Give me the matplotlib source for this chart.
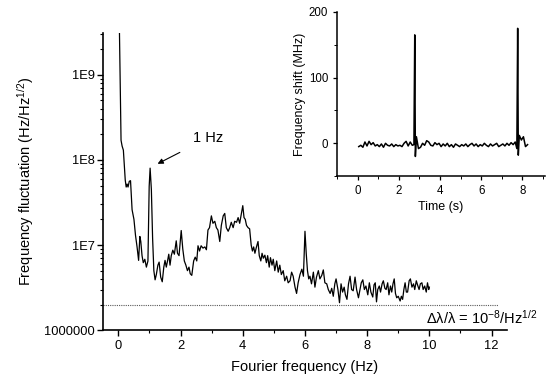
import matplotlib
matplotlib.use("Agg")
import matplotlib.pyplot as plt
from matplotlib.ticker import FixedLocator, MultipleLocator, FixedFormatter, LogLocator, NullFormatter

plt.rcParams['font.family'] = ['Liberation Sans', 'DejaVu Sans']
plt.rcParams['mathtext.fontset'] = 'custom'
plt.rcParams['mathtext.rm'] = 'Liberation Sans'
plt.rcParams['mathtext.it'] = 'Liberation Sans'

# ---- main spectrum data ----
freq = [0.03, 0.085, 0.12, 0.16, 0.22, 0.25, 0.28, 0.31, 0.35, 0.39, 0.44, 0.5, 0.55, 0.6, 0.65,
        0.69, 0.72, 0.76, 0.8, 0.85, 0.9, 0.95, 0.99, 1.02, 1.06, 1.1, 1.14, 1.18, 1.22, 1.27,
        1.31, 1.36, 1.41, 1.46, 1.5, 1.54, 1.58, 1.62, 1.66, 1.7, 1.75, 1.8, 1.86, 1.9, 1.95,
        2.02, 2.07, 2.12, 2.17, 2.22, 2.27, 2.31, 2.36, 2.42, 2.47, 2.52, 2.56, 2.61, 2.66, 2.72,
        2.78, 2.83, 2.88, 2.93, 2.99, 3.04, 3.1, 3.15, 3.2, 3.26, 3.31, 3.37, 3.42, 3.47, 3.53,
        3.58, 3.63, 3.69, 3.74, 3.8, 3.85, 3.9, 3.96, 4.0, 4.04, 4.08, 4.12, 4.17, 4.22, 4.27,
        4.31, 4.35, 4.39, 4.44, 4.49, 4.53, 4.58, 4.62, 4.66, 4.71, 4.76, 4.8, 4.85, 4.89, 4.94,
        4.98, 5.03, 5.09, 5.14, 5.19, 5.24, 5.3, 5.35, 5.41, 5.46, 5.52, 5.57, 5.62, 5.68, 5.73,
        5.78, 5.84, 5.9, 5.95, 6.0, 6.04, 6.08, 6.12, 6.16, 6.21, 6.27, 6.32, 6.37, 6.43, 6.48,
        6.54, 6.59, 6.64, 6.7, 6.75, 6.81, 6.86, 6.91, 6.96, 7.0, 7.06, 7.11, 7.16, 7.21, 7.26,
        7.3, 7.35, 7.4, 7.45, 7.5, 7.55, 7.61, 7.66, 7.72, 7.77, 7.81, 7.86, 7.91, 7.96, 8.02,
        8.07, 8.12, 8.18, 8.22, 8.26, 8.3, 8.34, 8.39, 8.43, 8.48, 8.52, 8.57, 8.61, 8.66, 8.7,
        8.75, 8.79, 8.83, 8.87, 8.91, 8.95, 9.0, 9.06, 9.1, 9.14, 9.18, 9.22, 9.26, 9.3, 9.35,
        9.39, 9.44, 9.49, 9.53, 9.58, 9.62, 9.67, 9.71, 9.76, 9.8, 9.85, 9.9, 9.94, 9.98, 10.0]
fluct = [4e9, 1.7e8, 1.45e8, 1.3e8, 5.8e7, 4.8e7, 5.2e7, 4.8e7, 5.6e7, 5.7e7, 2.6e7, 2.0e7, 1.3e7, 9.5e6, 6.6e6,
         1.26e7, 1.1e7, 7.5e6, 6.2e6, 6.8e6, 5.5e6, 6.5e6, 4.9e7, 8.0e7, 4.5e7, 1.2e7, 5e6, 3.9e6, 4.5e6, 5.8e6,
         6.3e6, 4.2e6, 3.7e6, 5.5e6, 6.6e6, 5.5e6, 6.5e6, 7.8e6, 5.8e6, 7.5e6, 8.7e6, 7.8e6, 1.12e7, 8.0e6, 7.5e6,
         1.48e7, 9e6, 6.5e6, 5.8e6, 5.0e6, 5.5e6, 4.6e6, 4.4e6, 6.5e6, 7.2e6, 6.5e6, 9.8e6, 8.5e6, 9.8e6, 9.2e6,
         9.5e6, 8.8e6, 1.5e7, 1.6e7, 2.2e7, 1.8e7, 1.9e7, 1.6e7, 1.5e7, 1.1e7, 1.7e7, 2.2e7, 2.35e7, 1.6e7, 1.45e7,
         1.6e7, 1.85e7, 1.6e7, 1.9e7, 1.85e7, 2.1e7, 1.8e7, 2.4e7, 2.9e7, 2.1e7, 2.0e7, 1.7e7, 1.6e7, 1.55e7, 1.0e7,
         8.5e6, 9.5e6, 8.0e6, 9.5e6, 1.1e7, 7.5e6, 6.5e6, 8.0e6, 7.0e6, 7.6e6, 6.2e6, 7.5e6, 5.5e6, 7.1e6, 5.8e6,
         6.8e6, 5.0e6, 6.5e6, 4.8e6, 5.8e6, 4.5e6, 5.0e6, 3.8e6, 4.3e6, 3.6e6, 3.8e6, 4.8e6, 4.3e6, 3.2e6, 2.7e6,
         3.6e6, 4.5e6, 5.2e6, 4.3e6, 1.45e7, 8e6, 5.0e6, 4.0e6, 4.3e6, 3.5e6, 4.8e6, 3.2e6, 4.2e6, 5.0e6, 4.0e6,
         4.4e6, 5.1e6, 3.6e6, 3.5e6, 3.0e6, 2.7e6, 3.1e6, 2.5e6, 3.5e6, 4.0e6, 3.0e6, 2.1e6, 3.5e6, 2.8e6, 3.2e6,
         2.6e6, 2.3e6, 3.5e6, 4.3e6, 3.0e6, 2.9e6, 4.2e6, 3.0e6, 2.4e6, 3.0e6, 3.6e6, 3.9e6, 3.0e6, 3.3e6, 2.6e6,
         3.6e6, 2.8e6, 2.45e6, 3.4e6, 3.6e6, 2.15e6, 3.0e6, 3.3e6, 2.8e6, 3.5e6, 3.8e6, 3.1e6, 3.0e6, 3.6e6, 2.6e6,
         3.3e6, 2.8e6, 3.5e6, 4.0e6, 2.7e6, 2.4e6, 2.5e6, 2.2e6, 2.5e6, 2.3e6, 3.0e6, 3.6e6, 2.8e6, 2.8e6, 3.8e6,
         4.0e6, 3.2e6, 3.5e6, 3.0e6, 3.8e6, 3.4e6, 3.0e6, 3.5e6, 3.6e6, 3.0e6, 3.3e6, 2.8e6, 3.6e6, 3.0e6, 3.2e6]

limit_level = 2e6
limit_x = [-0.5, 12.2]

main_xticks = [0, 2, 4, 6, 8, 10, 12]
main_yticks = [1e6, 1e7, 1e8, 1e9]
main_yticklabels = ["1000000", "1E7", "1E8", "1E9"]

# ---- inset time series ----
time_s = [0.05, 0.15, 0.25, 0.35, 0.45, 0.55, 0.65, 0.75, 0.85, 0.95,
          1.05, 1.15, 1.25, 1.35, 1.45, 1.55, 1.65, 1.75, 1.85, 1.95,
          2.05, 2.15, 2.25, 2.35, 2.45, 2.55, 2.65, 2.73, 2.77, 2.80, 2.85, 2.95,
          3.05, 3.15, 3.25, 3.35, 3.45, 3.55, 3.65, 3.75, 3.85, 3.95,
          4.05, 4.15, 4.25, 4.35, 4.45, 4.55, 4.65, 4.75, 4.85, 4.95,
          5.05, 5.15, 5.25, 5.35, 5.45, 5.55, 5.65, 5.75, 5.85, 5.95,
          6.05, 6.15, 6.25, 6.35, 6.45, 6.55, 6.65, 6.75, 6.85, 6.95,
          7.05, 7.15, 7.25, 7.35, 7.45, 7.55, 7.65, 7.73, 7.77, 7.80, 7.85, 7.95,
          8.05, 8.15, 8.25]
shift_mhz = [-5, -3, -6, 2, -4, 3, -2, 1, -4, -2,
             -5, -1, -6, 0, -3, -4, -1, -5, -2, -4,
             -3, -5, 0, 3, -4, 2, -3, -2, 165, -20, 10, -8,
             -6, 0, -3, 4, 2, -3, -4, 1, -2, 0,
             -5, -1, -4, 0, -5, -2, -6, -1, -3, -5,
             -2, -4, -1, -5, -2, 0, -4, -1, -5, -2,
             -4, 0, -3, -5, -1, -4, -2, 0, -5, -3,
             -1, -4, 0, -3, 1, -2, 2, -8, 175, -18, 12, 5,
             10, -5, -2]

fig = plt.figure(figsize=(5.5, 3.83), dpi=100)
ax = fig.add_axes([0.187, 0.138, 0.735, 0.776])

ax.plot(freq, fluct, color='black', lw=0.9)
ax.plot(limit_x, [limit_level, limit_level], color='0.35', lw=0.8, ls=(0, (1, 1)))
ax.set_yscale('log')
ax.set_xlim(-0.5, 12.5)
ax.set_ylim(1e6, 3.1e9)
ax.xaxis.set_major_locator(FixedLocator(main_xticks))
ax.xaxis.set_minor_locator(MultipleLocator(1))
ax.yaxis.set_major_locator(FixedLocator(main_yticks))
ax.yaxis.set_major_formatter(FixedFormatter(main_yticklabels))
ax.yaxis.set_minor_locator(LogLocator(base=10, subs=range(2, 10)))
ax.yaxis.set_minor_formatter(NullFormatter())
for s in ['top', 'right']:
    ax.spines[s].set_visible(False)
for s in ['left', 'bottom']:
    ax.spines[s].set_linewidth(1.2)
ax.tick_params(which='major', direction='out', length=4, width=1, labelsize=9.3, pad=1.5)
ax.tick_params(axis='x', which='major', pad=3)
ax.tick_params(which='minor', direction='out', length=2.5, width=0.8)
ax.set_xlabel("Fourier frequency (Hz)", fontsize=10.5, labelpad=6)
ax.set_ylabel("Frequency fluctuation (Hz/Hz$^{1/2}$)", fontsize=10.5, labelpad=6)

ax.annotate("1 Hz", xy=(1.26, 9e7), xytext=(2.87, 1.8e8), fontsize=10.5,
            ha='center', va='center',
            arrowprops=dict(arrowstyle='-|>', color='black', lw=0.8,
                            shrinkA=8, shrinkB=0, mutation_scale=8))
ax.text(11.68, 1.38e6, r"$\mathrm{\Delta\lambda/\lambda}$ = 10$^{-8}$/Hz$^{1/2}$", fontsize=10.5,
        ha='center', va='center', clip_on=False)

# inset
ins = fig.add_axes([0.613, 0.540, 0.378, 0.429])
ins.plot(time_s, shift_mhz, color='black', lw=1.1)
ins.set_xlim(-1, 9.1)
ins.set_ylim(-50, 200)
ins.xaxis.set_major_locator(FixedLocator([0, 2, 4, 6, 8]))
ins.xaxis.set_minor_locator(MultipleLocator(1))
ins.yaxis.set_major_locator(FixedLocator([0, 100, 200]))
ins.yaxis.set_minor_locator(MultipleLocator(50))
for s in ['top', 'right']:
    ins.spines[s].set_visible(False)
for s in ['left', 'bottom']:
    ins.spines[s].set_linewidth(1.1)
ins.tick_params(which='major', direction='out', length=3, width=0.9, labelsize=8.3)
ins.tick_params(which='minor', direction='out', length=2, width=0.7)
ins.set_xlabel("Time (s)", fontsize=9, labelpad=3)
ins.set_ylabel("Frequency shift (MHz)", fontsize=9, labelpad=2)
ins.patch.set_alpha(0)

fig.savefig("out.png", dpi=100)
